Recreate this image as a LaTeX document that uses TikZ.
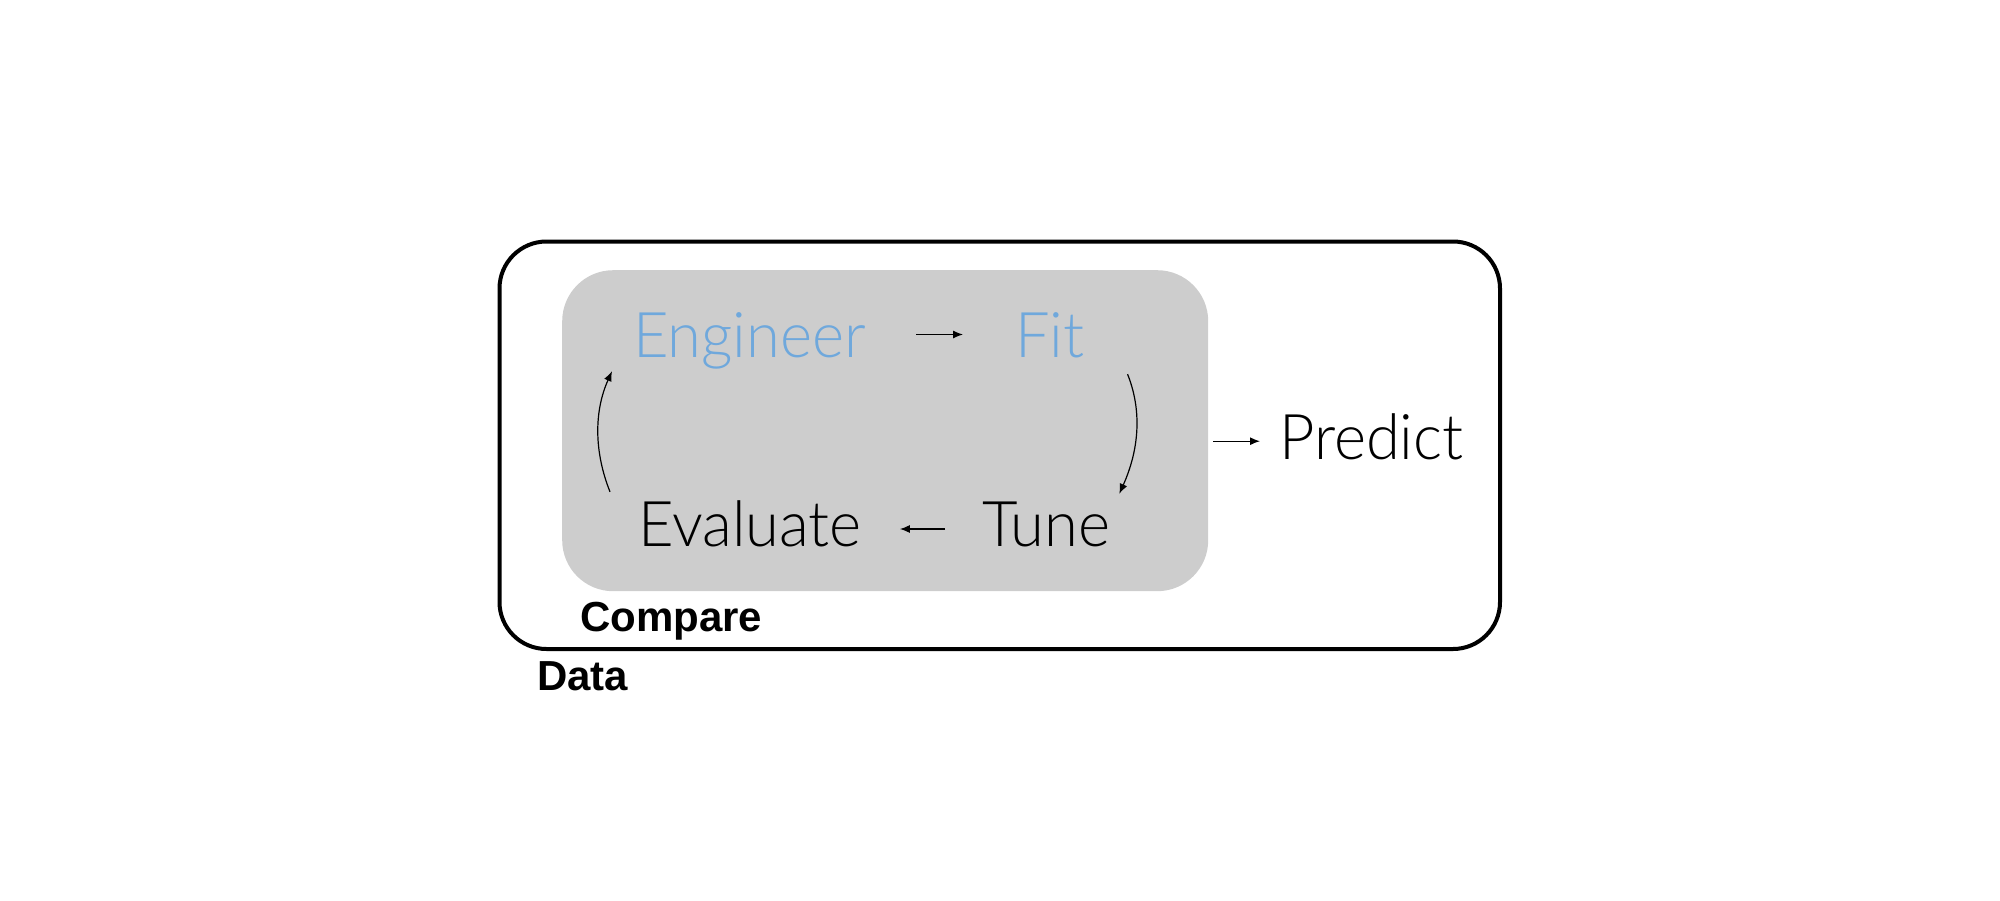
\documentclass[tikz,border=0pt]{standalone}
\usepackage{fontspec}
\setmainfont{Liberation Sans}
\newfontfamily\lightfont{Lato Light}[FakeStretch=0.975]
\usetikzlibrary{arrows.meta}
\definecolor{engblue}{RGB}{111,168,220}
\definecolor{boxgray}{RGB}{205,205,205}
\tikzset{
  steptext/.style={inner sep=0pt, text height=45pt, text depth=0pt, anchor=base west, font=\lightfont\fontsize{63}{70}\selectfont},
  lbl/.style={inner sep=0pt, anchor=base west, font=\bfseries\fontsize{42}{48}\selectfont},
  arr/.style={line width=1.2pt, -{Latex[length=10pt,width=8pt]}}
}
\begin{document}
\begin{tikzpicture}[x=1pt,y=-1pt]
\useasboundingbox (0,0) rectangle (2000,900);
\node[draw, line width=4pt, rounded corners=47pt, minimum width=1000.5pt, minimum height=407.5pt, anchor=north west, inner sep=0pt] (data) at (497.5,239.5) {};
\node[fill=boxgray, rounded corners=51pt, minimum width=646pt, minimum height=321pt, anchor=north west, inner sep=0pt] (cmp) at (562,270) {};
\node[steptext, text=engblue] (eng) at (633,357) {Engineer};
\node[steptext, text=engblue] (fit) at (1015,357) {Fit};
\node[steptext] (eval) at (638,546) {Evaluate};
\node[steptext] (tune) at (982,546) {Tune};
\node[steptext] (pred) at (1279,459) {Predict};
\node[lbl] (cmplbl) at (580,631) {Compare};
\node[lbl] (datalbl) at (537,690) {Data};
\draw[arr, shorten <=50pt, shorten >=52pt] (eng.east) -- (fit.west);
\draw[arr, shorten <=37pt, shorten >=38pt] ([yshift=-5.5pt]tune.west) -- ([yshift=-5.5pt]eval.east);
\draw[arr, shorten <=5pt, shorten >=19pt] ([yshift=-10.5pt]cmp.east) -- ([yshift=-10.5pt]cmp.east -| pred.west);
\draw[arr] ([xshift=43pt,yshift=-17pt]fit.south east) .. controls +(16,40) and +(18,-40) .. ([xshift=9pt,yshift=7pt]tune.north east);
\draw[arr] ([xshift=-28pt,yshift=9pt]eval.north west) .. controls +(-16,-40) and +(-18,40) .. ([xshift=-21pt,yshift=-14pt]eng.south west);
\end{tikzpicture}
\end{document}
